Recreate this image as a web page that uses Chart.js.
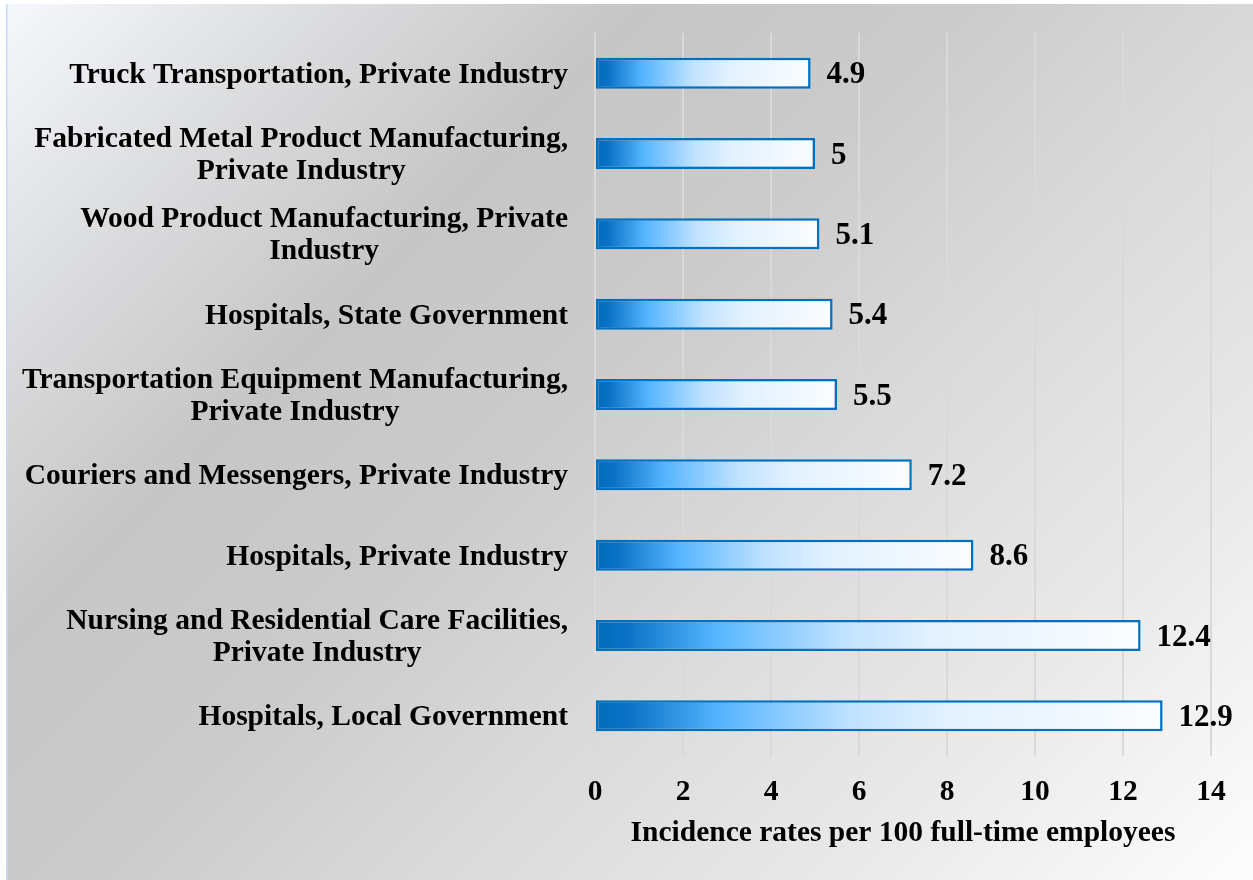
<!DOCTYPE html>
<html>
<head>
<meta charset="utf-8">
<title>Incidence rates by industry</title>
<script src="https://cdn.jsdelivr.net/npm/chart.js@4.4.1/dist/chart.umd.min.js"></script>
<style>
  html, body { margin: 0; padding: 0; background: #ffffff; }
  #wrap { width: 1253px; height: 880px; }
</style>
</head>
<body>
<div id="wrap"><canvas id="chart" width="1253" height="880"></canvas></div>
<script>
// Industry categories, top to bottom
const categories = [
  ["Truck Transportation, Private Industry"],
  ["Fabricated Metal Product Manufacturing,", "Private Industry"],
  ["Wood Product Manufacturing, Private", "Industry"],
  ["Hospitals, State Government"],
  ["Transportation Equipment Manufacturing,", "Private Industry"],
  ["Couriers and Messengers, Private Industry"],
  ["Hospitals, Private Industry"],
  ["Nursing and Residential Care Facilities,", "Private Industry"],
  ["Hospitals, Local Government"]
];

// Incidence rates per 100 full-time employees
const rates = [4.9, 5, 5.1, 5.4, 5.5, 7.2, 8.6, 12.4, 12.9];

// Value axis ticks
const xTickValues = [0, 2, 4, 6, 8, 10, 12, 14];

const axisTitle = "Incidence rates per 100 full-time employees";

const SERIF = '"Liberation Serif", "Times New Roman", serif';

// Panel background: diagonal grey sheen with a pale corner
const backgroundPlugin = {
  id: 'panelBackground',
  beforeDraw(chart) {
    const { ctx, width, height } = chart;
    ctx.save();
    ctx.fillStyle = '#ffffff';
    ctx.fillRect(0, 0, width, height);
    const x0 = 6, y0 = 4;
    const span = ((width - x0) + (height - y0)) / 2;
    const g = ctx.createLinearGradient(x0, y0, x0 + span, y0 + span);
    g.addColorStop(0.00, '#f5f8fc');
    g.addColorStop(0.15, '#dcdddf');
    g.addColorStop(0.30, '#c6c6c6');
    g.addColorStop(0.45, '#cbcbcb');
    g.addColorStop(0.60, '#d9d9d9');
    g.addColorStop(0.80, '#e9e9e9');
    g.addColorStop(1.00, '#fdfdfd');
    ctx.fillStyle = g;
    ctx.fillRect(x0, y0, width - x0, height - y0);
    ctx.strokeStyle = '#c6dbf1';
    ctx.lineWidth = 1.5;
    ctx.beginPath();
    ctx.moveTo(x0 + 0.75, y0);
    ctx.lineTo(x0 + 0.75, height);
    ctx.stroke();
    ctx.restore();
  }
};

// Category names, right-aligned as a block with centred lines
const categoryLabelPlugin = {
  id: 'categoryLabels',
  afterDraw(chart) {
    const { ctx, chartArea } = chart;
    const yScale = chart.scales.y;
    const lineH = 32;
    const rightEdge = chartArea.left - 27;
    ctx.save();
    ctx.font = 'bold 29.5px ' + SERIF;
    ctx.fillStyle = '#000000';
    ctx.textAlign = 'center';
    ctx.textBaseline = 'middle';
    categories.forEach((lines, i) => {
      const yc = yScale.getPixelForTick(i) + 2;
      const maxW = Math.max(...lines.map(l => ctx.measureText(l).width));
      const cx = rightEdge - maxW / 2;
      lines.forEach((line, j) => {
        ctx.fillText(line, cx, yc + (j - (lines.length - 1) / 2) * lineH);
      });
    });
    ctx.restore();
  }
};

// Value printed just past the end of each bar
const valueLabelPlugin = {
  id: 'valueLabels',
  afterDatasetsDraw(chart) {
    const { ctx } = chart;
    const meta = chart.getDatasetMeta(0);
    ctx.save();
    ctx.font = 'bold 31px ' + SERIF;
    ctx.fillStyle = '#000000';
    ctx.textAlign = 'left';
    ctx.textBaseline = 'middle';
    meta.data.forEach((bar, i) => {
      ctx.fillText(String(rates[i]), bar.x + 16, bar.y + 2);
    });
    ctx.restore();
  }
};

function barFill(context) {
  const chart = context.chart;
  const area = chart.chartArea;
  if (!area) return '#55b5ff';
  const xs = chart.scales.x;
  const x0 = xs.getPixelForValue(0);
  const x1 = xs.getPixelForValue(context.raw);
  const g = chart.ctx.createLinearGradient(x0, 0, x1, 0);
  g.addColorStop(0.00, '#006abb');
  g.addColorStop(0.06, '#0a72c5');
  g.addColorStop(0.22, '#55b5ff');
  g.addColorStop(0.45, '#bfe2ff');
  g.addColorStop(0.62, '#e2f1ff');
  g.addColorStop(1.00, '#fbfdff');
  return g;
}

new Chart(document.getElementById('chart'), {
  type: 'bar',
  data: {
    labels: categories,
    datasets: [{
      data: rates,
      backgroundColor: barFill,
      borderColor: '#0070c0',
      borderWidth: 2.5,
      borderSkipped: false,
      categoryPercentage: 1,
      barPercentage: 0.386
    }]
  },
  options: {
    indexAxis: 'y',
    responsive: false,
    animation: false,
    layout: { padding: { left: 0, top: 33, right: 42, bottom: 0 } },
    plugins: {
      legend: { display: false },
      tooltip: { enabled: false },
      title: { display: false }
    },
    scales: {
      x: {
        type: 'linear',
        position: 'bottom',
        min: 0,
        max: 14,
        afterBuildTicks(scale) {
          scale.ticks = xTickValues.map(v => ({ value: v }));
        },
        afterFit(scale) { scale.height = 124; },
        grid: { color: '#d9d9d9', lineWidth: 2, drawTicks: false },
        border: { display: false },
        ticks: {
          padding: 19,
          color: '#000000',
          font: { family: SERIF, size: 29.5, weight: 'bold' }
        },
        title: {
          display: true,
          text: axisTitle,
          color: '#000000',
          font: { family: SERIF, size: 29.5, weight: 'bold' },
          padding: { top: 0, bottom: 29 }
        }
      },
      y: {
        type: 'category',
        offset: true,
        afterFit(scale) { scale.width = 595; },
        grid: { display: false },
        border: { display: false },
        ticks: { display: false }
      }
    }
  },
  plugins: [backgroundPlugin, categoryLabelPlugin, valueLabelPlugin]
});
</script>
</body>
</html>
